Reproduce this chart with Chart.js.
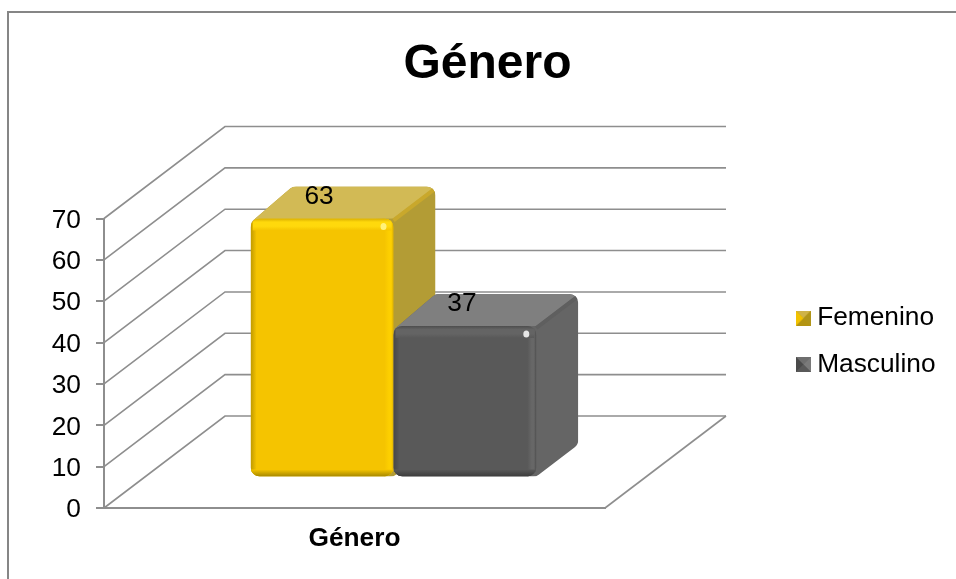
<!DOCTYPE html>
<html>
<head>
<meta charset="utf-8">
<title>Género</title>
<script src="https://cdn.jsdelivr.net/npm/chart.js@4/dist/chart.umd.min.js"></script>
<style>
  body { margin: 0; background: #fff; }
  canvas { display: block; }
</style>
</head>
<body>
<canvas id="chart" width="956" height="579"></canvas>
<script>
const categories = ['Género'];
const femenino = [63];
const masculino = [37];
const seriesNames = ['Femenino', 'Masculino'];
const chartTitle = 'Género';

const FONT = '"Liberation Sans", Arial, sans-serif';
const LINE = '#8e8e8e';
const wallDepth = { x: 121, y: 92 };
const barShift = { x: 39, y: 30.5 };
const barDepth = { x: 42, y: 32 };

const palettes = [
  { front: '#f5c400', top: '#d2ba55', side: '#b39c35', ridge: '#c9a82c', hiTop: '#ffd90c', loTop: '#d9ae00',
    hiRight: '#fdcf00', loRight: '#dcb000', left: '#c09a00', bottom: '#a58700', spot: '#fff27a' },
  { front: '#595959', top: '#7f7f7f', side: '#656565', ridge: '#5f5f5f', hiTop: '#646464', loTop: '#4d4d4d',
    hiRight: '#676767', loRight: '#4d4d4d', left: '#474747', bottom: '#3c3c3c', spot: '#e6e6e6' }
];

function polyPath(ctx, pts, r) {
  const n = pts.length;
  ctx.beginPath();
  ctx.moveTo((pts[0][0] + pts[n - 1][0]) / 2, (pts[0][1] + pts[n - 1][1]) / 2);
  for (let i = 0; i < n; i++) {
    const next = pts[(i + 1) % n];
    ctx.arcTo(pts[i][0], pts[i][1], next[0], next[1], r);
  }
  ctx.closePath();
}

function stripe(ctx, x0, y0, x1, y1, stops, rx, ry, rw, rh) {
  const g = ctx.createLinearGradient(x0, y0, x1, y1);
  stops.forEach(s => g.addColorStop(s[0], s[1]));
  ctx.fillStyle = g;
  ctx.fillRect(rx, ry, rw, rh);
}

function drawBar(ctx, el, p) {
  const L = el.x - el.width / 2 + barShift.x;
  const R = el.x + el.width / 2 + barShift.x;
  const T = el.y - barShift.y + 1.5;
  const B = el.base - barShift.y;
  const d = barDepth.x, h = barDepth.y;

  // side and top faces
  ctx.save();
  polyPath(ctx, [[L, T + 4], [L + d, T - h], [R + d, T - h], [R + d, B - h], [R, B], [L, B]], 9);
  ctx.clip();
  ctx.fillStyle = p.side;
  ctx.fillRect(L, T - h, R + d - L, B - T + h);
  ctx.fillStyle = p.top;
  ctx.beginPath();
  ctx.moveTo(L - 5, T + 4);
  ctx.lineTo(L + d, T - h);
  ctx.lineTo(R + d, T - h);
  ctx.lineTo(R, T);
  ctx.closePath();
  ctx.fill();
  ctx.strokeStyle = p.ridge;
  ctx.lineWidth = 4;
  ctx.beginPath();
  ctx.moveTo(R, T + 2);
  ctx.lineTo(R + d, T - h + 2);
  ctx.stroke();
  ctx.restore();

  // front face with soft bevel
  ctx.save();
  ctx.beginPath();
  ctx.roundRect(L, T, R - L, B - T, 9);
  ctx.clip();
  ctx.fillStyle = p.front;
  ctx.fillRect(L, T, R - L, B - T);
  stripe(ctx, L, 0, L + 6, 0, [[0, p.left], [1, p.front]], L, T, 6, B - T);
  stripe(ctx, R - 9, 0, R, 0, [[0, p.front], [0.5, p.hiRight], [0.75, p.hiRight], [1, p.loRight]], R - 9, T, 9, B - T);
  stripe(ctx, 0, T, 0, T + 12, [[0, p.loTop], [0.3, p.hiTop], [0.65, p.hiTop], [1, p.front]], L + 2, T, R - L - 4, 12);
  stripe(ctx, 0, B - 7, 0, B, [[0, p.front], [1, p.bottom]], L, B - 7, R - L, 7);
  ctx.fillStyle = p.spot;
  ctx.beginPath();
  ctx.ellipse(R - 10, T + 8, 3, 3.5, 0, 0, Math.PI * 2);
  ctx.fill();
  ctx.restore();
}

function makeMarker(colors) {
  const c = document.createElement('canvas');
  c.width = 15;
  c.height = 15;
  const m = c.getContext('2d');
  const tri = (col, a, b) => {
    m.fillStyle = col;
    m.beginPath();
    m.moveTo(a[0], a[1]);
    m.lineTo(b[0], b[1]);
    m.lineTo(7.5, 7.5);
    m.closePath();
    m.fill();
  };
  m.fillStyle = colors[0];
  m.fillRect(0, 0, 15, 15);
  tri(colors[1], [0, 0], [15, 0]);
  tri(colors[2], [15, 0], [15, 15]);
  tri(colors[3], [15, 15], [0, 15]);
  tri(colors[4], [0, 15], [0, 0]);
  return c;
}

const markers = [
  makeMarker(['#b89a1e', '#cfb348', '#b0951a', '#b39412', '#f2c200']),
  makeMarker(['#666666', '#6e6e6e', '#7a7a7a', '#595959', '#4a4a4a'])
];

const bar3d = {
  id: 'bar3d',
  beforeLayout(chart) {
    // keep the space right of the plot for the back wall and legend
    const lg = chart.legend;
    const fit = lg.fit;
    lg.fit = function () {
      fit.call(this);
      this.width = 351;
    };
  },
  beforeDraw(chart) {
    const ctx = chart.ctx;
    ctx.save();
    ctx.strokeStyle = '#868686';
    ctx.lineWidth = 2;
    ctx.beginPath();
    ctx.moveTo(8, 579);
    ctx.lineTo(8, 12);
    ctx.lineTo(956, 12);
    ctx.stroke();
    ctx.restore();
  },
  afterLayout(chart) {
    const lg = chart.legend;
    lg.left = 783;
    lg.right = 956;
    lg.top = 285;
    // y labels sit a little under their tick marks
    chart.scales.y.getLabelItems().forEach(item => {
      item.textOffset += 2;
    });
  },
  beforeDatasetsDraw(chart) {
    const ctx = chart.ctx;
    const { left, right, bottom } = chart.chartArea;
    const y = chart.scales.y;
    ctx.save();
    ctx.strokeStyle = LINE;
    ctx.lineWidth = 1.6;
    y.ticks.forEach(t => {
      const py = y.getPixelForValue(t.value);
      ctx.beginPath();
      ctx.moveTo(left, py);
      ctx.lineTo(left + wallDepth.x, py - wallDepth.y);
      ctx.lineTo(right + wallDepth.x, py - wallDepth.y);
      ctx.stroke();
    });
    ctx.beginPath();
    ctx.moveTo(right, bottom);
    ctx.lineTo(right + wallDepth.x, bottom - wallDepth.y);
    ctx.stroke();
    chart.data.datasets.forEach((ds, i) => {
      chart.getDatasetMeta(i).data.forEach(el => drawBar(ctx, el, palettes[i]));
    });
    ctx.restore();
  },
  beforeDatasetDraw() {
    return false;
  },
  afterDatasetsDraw(chart) {
    const ctx = chart.ctx;
    ctx.save();
    ctx.font = '26.3px ' + FONT;
    ctx.fillStyle = '#000';
    ctx.textAlign = 'center';
    ctx.textBaseline = 'middle';
    chart.data.datasets.forEach((ds, i) => {
      chart.getDatasetMeta(i).data.forEach((el, j) => {
        ctx.fillText(String(ds.data[j]), el.x + barShift.x - 3, el.y - barShift.y - 20.5);
      });
    });
    ctx.restore();
  }
};

new Chart(document.getElementById('chart'), {
  type: 'bar',
  data: {
    labels: categories,
    datasets: [
      { label: seriesNames[0], data: femenino, backgroundColor: '#f5c400' },
      { label: seriesNames[1], data: masculino, backgroundColor: '#595959' }
    ]
  },
  plugins: [bar3d],
  options: {
    responsive: false,
    animation: false,
    events: [],
    layout: { padding: { left: 19, right: 0, top: 0, bottom: 0 } },
    datasets: { bar: { categoryPercentage: 0.57, barPercentage: 1 } },
    plugins: {
      tooltip: { enabled: false },
      title: {
        display: true,
        text: chartTitle,
        color: '#000',
        font: { family: FONT, size: 48, weight: 'bold' },
        padding: { top: 36, bottom: 124.9 }
      },
      legend: {
        position: 'right',
        align: 'start',
        labels: {
          color: '#000',
          font: { family: FONT, size: 26.3 },
          usePointStyle: true,
          boxWidth: 1,
          padding: 20,
          generateLabels(chart) {
            return Chart.defaults.plugins.legend.labels.generateLabels(chart)
              .map((item, i) => Object.assign(item, { pointStyle: markers[i] }));
          }
        }
      }
    },
    scales: {
      x: {
        grid: { display: false },
        border: { color: LINE, width: 2 },
        ticks: { color: '#000', font: { family: FONT, size: 26.3, weight: 'bold' }, padding: 7 },
        afterFit(scale) { scale.height = 71; }
      },
      y: {
        min: 0,
        max: 70,
        grid: { drawOnChartArea: false, drawTicks: true, tickLength: 8, color: LINE, lineWidth: 2 },
        border: { color: LINE, width: 2 },
        ticks: { stepSize: 10, color: '#000', font: { family: FONT, size: 26.3 }, padding: 15 },
        afterFit(scale) { scale.width = 85; }
      }
    }
  }
});
</script>
</body>
</html>
